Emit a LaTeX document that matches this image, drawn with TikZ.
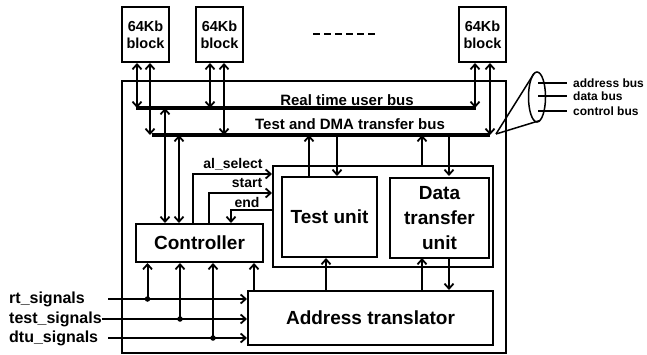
\documentclass[tikz,border=0pt]{standalone}
\usepackage{fontspec}
\setmainfont{Liberation Sans}
\usetikzlibrary{arrows.meta,shapes.geometric,calc}
\begin{document}
\begin{tikzpicture}[x=1pt,y=-1pt,
  box/.style={draw,line width=2pt,inner sep=0pt,font=\bfseries\fontsize{19}{24}\selectfont,align=center},
  blk/.style={box,minimum width=47pt,minimum height=55pt,font=\bfseries\fontsize{14.5}{17}\selectfont},
  bus/.style={line width=3.6pt},
  tip/.tip={Straight Barb[length=5pt,width=9pt,line width=1.8pt]},
  arr/.style={line width=2pt,-tip},
  dbl/.style={line width=2pt,tip-tip},
  lbl/.style={font=\bfseries\fontsize{15}{17}\selectfont,inner sep=0pt},
  sig/.style={font=\bfseries\fontsize{16}{18}\selectfont,inner sep=0pt,anchor=west},
  cl/.style={font=\bfseries\fontsize{14}{16}\selectfont,inner sep=0pt},
  sm/.style={font=\bfseries\fontsize{12}{14}\selectfont,inner sep=0pt,anchor=west},
  dot/.style={circle,fill,inner sep=0pt,minimum size=5.5pt}]
\useasboundingbox (0,0) rectangle (647,355);
% memory blocks
\node[blk] (b1) at (145.5,34.5) {64Kb\\block};
\node[blk] (b2) at (219.5,34.5) {64Kb\\block};
\node[blk] (b3) at (482.5,34.5) {64Kb\\block};
\draw[line width=2.8pt,dash pattern=on 7pt off 4pt] (313,34) -- (375,34);
% outer box
\node[draw,line width=1.8pt,minimum width=384pt,minimum height=272pt,inner sep=0pt] (outer) at (314,217) {};
% buses
\coordinate (rtL) at (136,108); \coordinate (rtR) at (476,108);
\coordinate (tdL) at (152,135); \coordinate (tdR) at (490,135);
\draw[bus] (rtL) -- (rtR);
\draw[bus] (tdL) -- (tdR);
\node[lbl] (rtlab) at (347,100) {Real time user bus};
\node[lbl] (tdlab) at (350,124) {Test and DMA transfer bus};
% block to bus arrows
\draw[dbl] ([xshift=-8.5pt]b1.south) -- ([xshift=-8.5pt]b1.south |- rtL);
\draw[dbl] ([xshift=4.5pt]b1.south) -- ([xshift=4.5pt]b1.south |- tdL);
\draw[dbl] ([xshift=-9.5pt]b2.south) -- ([xshift=-9.5pt]b2.south |- rtL);
\draw[dbl] ([xshift=4.5pt]b2.south) -- ([xshift=4.5pt]b2.south |- tdL);
\draw[dbl] ([xshift=-7.5pt]b3.south) -- ([xshift=-7.5pt]b3.south |- rtL);
\draw[dbl] ([xshift=7.5pt]b3.south) -- ([xshift=7.5pt]b3.south |- tdL);
% units
\node[box,minimum width=127pt,minimum height=38pt] (ctrl) at (199.5,243) {Controller};
\node[draw,line width=2pt,minimum width=220pt,minimum height=101pt,inner sep=0pt] (inner) at (383,216.5) {};
\node[box,minimum width=95pt,minimum height=80pt] (tu) at (329.5,217) {Test unit};
\node[box,minimum width=99pt,minimum height=80pt,font=\bfseries\fontsize{19}{25}\selectfont] (dtu) at (439.5,218) {Data\\transfer\\unit};
\node[box,minimum width=245pt,minimum height=54pt] (at) at (370.5,318) {Address translator};
% controller to buses
\draw[dbl] ([xshift=-34.5pt]ctrl.north) -- ([xshift=-34.5pt]ctrl.north |- rtL);
\draw[dbl] ([xshift=-20.5pt]ctrl.north) -- ([xshift=-20.5pt]ctrl.north |- tdL);
% control signals
\coordinate (ysel) at (0,174);
\coordinate (ystart) at (0,193);
\coordinate (yend) at (0,210);
\draw[arr] ([xshift=-6.5pt]ctrl.north) |- (ysel -| inner.west);
\draw[arr] ([xshift=9.5pt]ctrl.north) |- (ystart -| inner.west);
\draw[arr] (yend -| inner.west) -| ([xshift=31.5pt]ctrl.north);
\node[cl] (lsel) at (233,164) {al\_select};
\node[cl] (lstart) at (247,183) {start};
\node[cl] (lend) at (247,202) {end};
% units to bus
\draw[arr] ([xshift=-20.5pt]tu.north) -- ([xshift=-20.5pt]tu.north |- tdL);
\draw[arr] ([xshift=7.5pt]tu.north |- tdL) -- ([xshift=7.5pt]tu.north);
\draw[arr] ([xshift=-17.5pt]dtu.north |- inner.north) -- ([xshift=-17.5pt]dtu.north |- tdL);
\draw[arr] ([xshift=9.5pt]dtu.north |- tdL) -- ([xshift=9.5pt]dtu.north |- tu.north);
% address translator links
\draw[arr] ([xshift=-3.5pt]tu.south |- at.north) -- ([xshift=-3.5pt]tu.south);
\draw[arr] ([xshift=-17.5pt]dtu.south |- at.north) -- ([xshift=-17.5pt]dtu.south |- tu.south);
\draw[arr] ([xshift=9.5pt]dtu.south |- tu.south) -- ([xshift=9.5pt]dtu.south |- at.north);
\draw[arr] ([xshift=54.5pt]ctrl.south |- at.north) -- ([xshift=54.5pt]ctrl.south);
% external signals
\node[sig] (rts) at (9,299) {rt\_signals};
\node[sig] (tss) at (9,319) {test\_signals};
\node[sig] (dts) at (9,338) {dtu\_signals};
\coordinate (s1) at (108,299);
\coordinate (s2) at (tss.east);
\coordinate (s3) at (108,338);
\draw[arr] (s1) -- (s1 -| at.west);
\draw[arr] (s2) -- (s2 -| at.west);
\draw[arr] (s3) -- (s3 -| at.west);
\node[dot] (d1) at (147.5,299) {};
\node[dot] (d2) at (180,319) {};
\node[dot] (d3) at (213,338) {};
\draw[arr] (d1.center) -- (d1.center |- ctrl.south);
\draw[arr] (d2.center) -- (d2.center |- ctrl.south);
\draw[arr] (d3.center) -- (d3.center |- ctrl.south);
% bus legend
\node[ellipse,draw,line width=1.5pt,minimum width=17pt,minimum height=50pt,inner sep=0pt] (ell) at (537,97) {};
\coordinate (P) at ([shift={(6,-1)}]tdR);
\draw[line width=1.5pt] (P) -- ([shift={(-3,-23.5)}]ell.center);
\draw[line width=1.5pt] (P) -- ([shift={(3,23.5)}]ell.center);
\coordinate (la) at (538,83); \coordinate (ld) at (538,96); \coordinate (lc) at (538,111);
\node[sm] (ta) at (573,83) {address bus};
\node[sm] (tdd) at (573,96) {data bus};
\node[sm] (tc) at (573,111) {control bus};
\draw[line width=2.8pt] (la) -- ([xshift=-6pt]la -| ta.west);
\draw[line width=2.8pt] (ld) -- ([xshift=-6pt]ld -| ta.west);
\draw[line width=2.8pt] (lc) -- ([xshift=-6pt]lc -| ta.west);
\end{tikzpicture}
\end{document}
